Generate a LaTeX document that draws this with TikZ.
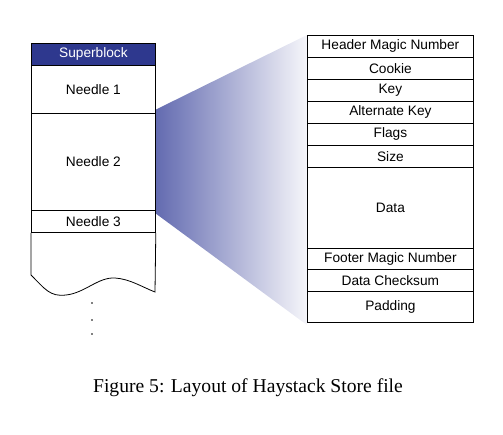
\documentclass[tikz,border=0pt]{standalone}
\usepackage{fontspec}
\setmainfont{Liberation Serif}
\setsansfont{Liberation Sans}
\begin{document}
\begin{tikzpicture}[x=1pt,y=-1pt,
  cell/.style={draw=black, line width=0.8pt, inner sep=0pt, font=\sffamily\fontsize{13.7}{15}\selectfont, anchor=north west},
  field/.style={cell, minimum width=166pt},
  lcell/.style={cell, minimum width=124pt},
  superfill/.style={fill={rgb,255:red,46;green,56;blue,142}, text=white}]
\useasboundingbox (0,0) rectangle (503,435);
% funnel
\shade[left color={rgb,255:red,98;green,106;blue,176}, right color={rgb,255:red,246;green,246;blue,250}]
  (155,110) -- (307,35) -- (307,325) -- (155,213) -- cycle;
% left column
\node[lcell, superfill, minimum height=22pt] (sb) at (31,43) {Superblock};
\node[lcell, minimum height=48pt] (n1) at (31,65) {Needle 1};
\node[lcell, minimum height=97pt] (n2) at (31,113) {Needle 2};
\node[lcell, minimum height=22pt] (n3) at (31,210) {Needle 3};
\coordinate (bl) at (31,275);
\coordinate (br) at (155,292);
\draw[line width=0.8pt] (n3.south west) -- (bl)
  .. controls (45,289) and (50,297) .. (66,295)
  .. controls (85,293) and (98,277) .. (115,278)
  .. controls (130,279) and (142,287) .. (br) -- (n3.south east);
\fill (92,303) circle (0.9);
\fill (92,320) circle (0.9);
\fill (92,334) circle (0.9);
% right table
\node[field, minimum height=22pt] (hm) at (307,35) {Header Magic Number};
\node[field, minimum height=22pt] (ck) at (307,57) {Cookie};
\node[field, minimum height=22pt] (ky) at (307,79) {Key};
\node[field, minimum height=22pt] (ak) at (307,101) {Alternate Key};
\node[field, minimum height=22pt] (fl) at (307,123) {Flags};
\node[field, minimum height=22pt] (sz) at (307,145) {Size};
\node[field, minimum height=81pt] (da) at (307,167) {Data};
\node[field, minimum height=21pt] (fm) at (307,248) {Footer Magic Number};
\node[field, minimum height=22pt] (dc) at (307,269) {Data Checksum};
\node[field, minimum height=31pt] (pd) at (307,291) {Padding};
% caption
\node[font=\rmfamily\fontsize{19.6}{22}\selectfont, anchor=base] (cap) at (248,392) {Figure 5: Layout of Haystack Store file};
\end{tikzpicture}
\end{document}
